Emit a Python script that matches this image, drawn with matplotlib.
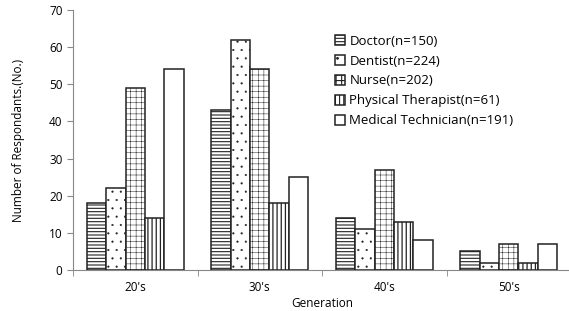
import numpy as np
import matplotlib
matplotlib.use("Agg")
import matplotlib.pyplot as plt

plt.rcParams['font.family'] = ['Open Sans', 'DejaVu Sans']

generations = ["20's", "30's", "40's", "50's"]
labels = ['Doctor(n=150)', 'Dentist(n=224)', 'Nurse(n=202)',
          'Physical Therapist(n=61)', 'Medical Technician(n=191)']
doctor = [18, 43, 14, 5]
dentist = [22, 62, 11, 2]
nurse = [49, 54, 27, 7]
therapist = [14, 18, 13, 2]
technician = [54, 25, 8, 7]
series = [doctor, dentist, nurse, therapist, technician]
hatches = ['-----', '..', '+++', '||||', '']
hatch_lw = [0.8, 0.3, 0.35, 0.9, 0.8]

fig = plt.figure(figsize=(5.69, 3.11), dpi=100)
ax = fig.add_axes([73 / 569, 41 / 311, 498 / 569, 260 / 311])

x = np.arange(len(generations))
w = 0.156
for i, (vals, h, lab) in enumerate(zip(series, hatches, labels)):
    plt.rcParams['hatch.linewidth'] = hatch_lw[i]
    ax.bar(x + (i - 2) * w, vals, width=w, color='white', edgecolor='#222222',
           linewidth=1.1, hatch=h, label=lab)

ax.set_xlim(-0.5, 3.5)
ax.set_ylim(0, 70)
ax.set_yticks(range(0, 71, 10))
ax.set_xticks(x)
ax.set_xticklabels(generations, fontsize=8.5)
ax.set_xticks(np.arange(-0.5, 3.6, 1), minor=True)
ax.tick_params(axis='x', which='major', length=0, pad=8)
ax.tick_params(axis='x', which='minor', length=4, color='#888888', direction='out')
ax.tick_params(axis='y', labelsize=8.5, length=4, color='#888888', direction='out')
for s in ['top', 'right']:
    ax.spines[s].set_visible(False)
for s in ['left', 'bottom']:
    ax.spines[s].set_color('#888888')

ax.set_ylabel('Number of Respondants.(No.)', fontsize=8.5, labelpad=17)
ax.set_xlabel('Generation', fontsize=8.5, labelpad=2)

ax.legend(loc='upper left', bbox_to_anchor=(0.515, 0.925), frameon=False,
          fontsize=9.5, handlelength=0.8, handleheight=0.8, handletextpad=0.3,
          labelspacing=0.52, borderaxespad=0)

fig.savefig('out.png', dpi=100)
